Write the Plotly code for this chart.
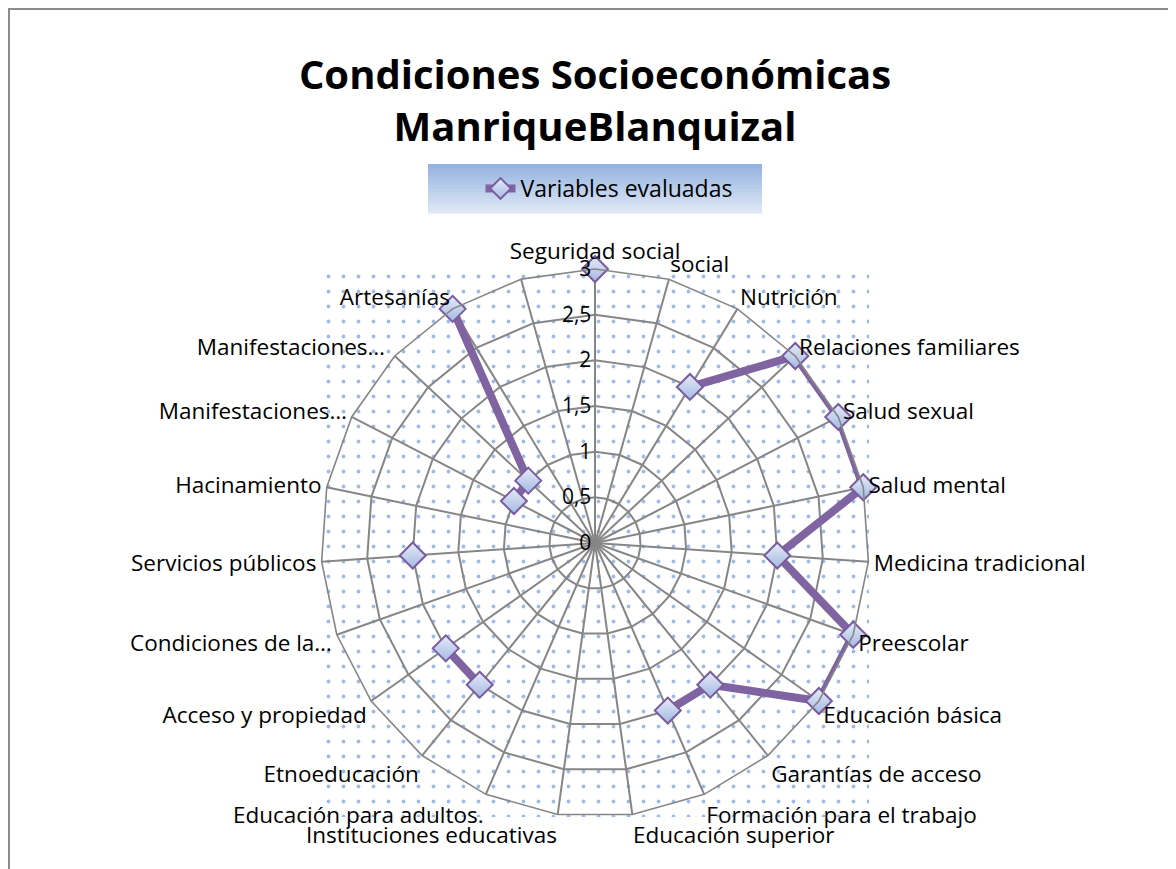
import plotly.graph_objects as go

# ── data ─────────────────────────────────────────────────────────────
CATEGORIES = [
    "Seguridad social", "social", "Nutrición", "Relaciones familiares",
    "Salud sexual", "Salud mental", "Medicina tradicional", "Preescolar",
    "Educación básica", "Garantías de acceso", "Formación para el trabajo",
    "Educación superior", "Instituciones educativas", "Educación para adultos.",
    "Etnoeducación", "Acceso y propiedad", "Condiciones de la…",
    "Servicios públicos", "Hacinamiento", "Manifestaciones…",
    "Manifestaciones… ",   # trailing space keeps the category distinct
    "Artesanías", " ",
]
VALUES = [3, None, 2, 3, 3, 3, 2, 3, 3, 2, 2, None, None, None,
          2, 2, None, 2, None, 1, 1, 3, None]
R_TICKS = [0, 0.5, 1, 1.5, 2, 2.5, 3]
R_TICKTEXT = ["0", "0,5", "1", "1,5", "2", "2,5", "3"]
SERIES_NAME = "Variables evaluadas"
TITLE = "Condiciones Socioeconómicas<br>ManriqueBlanquizal"

# ── geometry (page pixels; the page body adds an 8px margin) ─────────
OFF = 8
W, H = 1176 - OFF, 869 - OFF
CX, CY, RAD = 595, 543, 274


def px(x):
    return (x - OFF) / W


def py(y):
    return 1 - (y - OFF) / H


dom_x = [px(CX - RAD), px(CX + RAD)]
dom_y = [py(CY + RAD), py(CY - RAD)]

GRID = "#868686"
PURPLE = "#8064A2"
FONT = "Open Sans, Arial"

fig = go.Figure()

# dotted background behind the radar
fig.add_trace(go.Scatter(
    x=[0, 1, 1, 0, 0], y=[0, 0, 1, 1, 0],
    mode="lines", fill="toself", line=dict(width=0),
    fillcolor="white",
    fillpattern=dict(shape=".", size=15, solidity=0.05,
                     fgcolor="#3f78cc", bgcolor="white"),
    hoverinfo="skip", showlegend=False,
))

fig.add_trace(go.Scatterpolar(
    r=VALUES, theta=CATEGORIES,
    mode="lines+markers",
    name=SERIES_NAME,
    line=dict(color=PURPLE, width=8),
    marker=dict(symbol="diamond", size=20, color="#e6ecf8",
                gradient=dict(type="vertical", color="#a3b8e2"),
                line=dict(color="#7a5c9e", width=2)),
    connectgaps=False,
))

# legend box with a vertical gradient
lx0, lx1, ly0, ly1 = 428, 762, 164, 213
top_c, bot_c = (149, 179, 224), (222, 231, 245)
n = 14
shapes = []
for i in range(n):
    t = i / (n - 1)
    c = tuple(round(a + (b - a) * t) for a, b in zip(top_c, bot_c))
    y0 = ly0 + (ly1 - ly0) * i / n
    y1 = ly0 + (ly1 - ly0) * (i + 1) / n + 0.6
    shapes.append(dict(type="rect", xref="paper", yref="paper",
                       x0=px(lx0), x1=px(lx1), y0=py(y1), y1=py(y0),
                       line=dict(width=0), fillcolor="rgb(%d,%d,%d)" % c,
                       layer="below"))
# chart border (left and top edges visible)
shapes.append(dict(type="rect", xref="paper", yref="paper",
                   x0=1 / W, x1=1.05, y0=-0.05, y1=1 - 1 / H,
                   line=dict(color="#8c8c8c", width=2)))

fig.update_layout(
    width=W, height=H,
    margin=dict(l=0, r=0, t=0, b=0),
    paper_bgcolor="white", plot_bgcolor="rgba(0,0,0,0)",
    font=dict(family=FONT, size=22, color="black"),
    title=dict(text="<b>" + TITLE + "</b>", x=px(CX), xanchor="center",
               y=py(89), yanchor="top",
               font=dict(family=FONT, size=40, color="black")),
    xaxis=dict(domain=dom_x, range=[0, 1], visible=False, fixedrange=True),
    yaxis=dict(domain=dom_y, range=[0, 1], visible=False, fixedrange=True),
    polar=dict(
        domain=dict(x=dom_x, y=dom_y),
        bgcolor="rgba(0,0,0,0)",
        gridshape="linear",
        angularaxis=dict(
            type="category", categoryorder="array", categoryarray=CATEGORIES,
            rotation=90, direction="clockwise",
            showline=True, linecolor=GRID, linewidth=1.6,
            gridcolor=GRID, gridwidth=1.6, ticks="",
            tickfont=dict(size=22.5),
        ),
        radialaxis=dict(
            range=[0, 3], angle=90, side="counterclockwise",
            tickvals=R_TICKS, ticktext=R_TICKTEXT, tickangle=90,
            showline=False, ticks="", gridcolor=GRID, gridwidth=1.6,
            tickfont=dict(size=21),
        ),
    ),
    legend=dict(orientation="h", x=px(CX + 14), xanchor="center",
                y=py(188.5), yanchor="middle",
                bgcolor="rgba(0,0,0,0)", font=dict(size=23)),
    shapes=shapes,
)

fig.write_html("out.html")
